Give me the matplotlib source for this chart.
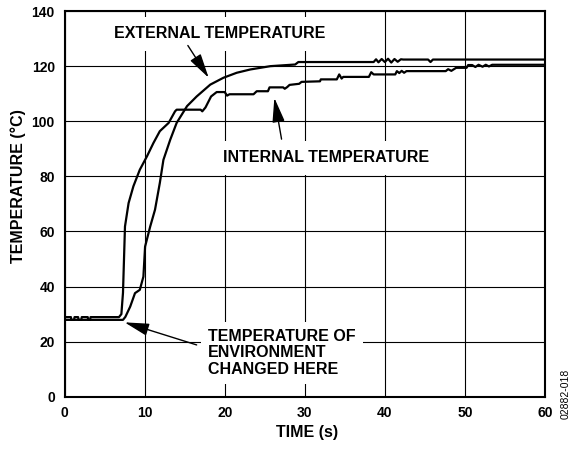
import matplotlib
matplotlib.use("Agg")
import matplotlib.pyplot as plt

plt.rcParams['font.family'] = ['Liberation Sans', 'DejaVu Sans']

# -------------------------
# data
# -------------------------
# curve that rises first (ends as the lower trace, "internal")
int_time = [0, 0.8, 0.85, 1.2, 1.25, 1.7, 1.75, 2.1, 2.15, 2.9, 2.95, 3.2, 3.25,
            6.8, 7.1, 7.3, 7.55, 8.0, 8.6, 9.4, 10.3, 11.1, 11.9, 13.0, 13.8,
            14.0, 17.0, 17.2, 17.6, 18.3, 19.0, 20.0, 20.3, 20.6, 23.6, 24.0,
            25.4, 25.6, 27.3, 27.5, 27.8, 28.1, 29.3, 29.6, 31.9, 32.0, 34.0,
            34.3, 34.6, 34.8, 38.0, 38.3, 38.6, 41.3, 41.5, 41.8, 42.1, 42.4,
            42.7, 47.6, 47.9, 48.3, 48.9, 50.2, 50.4, 50.9, 51.3, 51.7, 52.2,
            52.6, 53.0, 53.4, 60]
int_temp = [28.9, 28.9, 27.9, 27.9, 28.9, 28.9, 27.9, 27.9, 28.9, 28.9, 27.9, 27.9, 28.9,
            28.9, 30.0, 37.7, 61.8, 70.3, 76.4, 82.4, 87.3, 92.1, 96.4, 99.4, 103.6,
            104.2, 104.2, 103.6, 105.0, 109.0, 110.6, 110.6, 109.3, 109.8, 109.8, 110.9,
            110.9, 112.3, 112.3, 111.8, 112.4, 113.2, 113.6, 114.3, 114.5, 115.2, 115.2,
            117.0, 115.5, 116.1, 116.1, 117.8, 117.0, 117.0, 118.2, 117.5, 118.3, 117.6,
            118.2, 118.2, 118.9, 118.3, 119.4, 119.4, 120.4, 120.4, 119.7, 120.5, 119.8,
            120.5, 119.9, 120.5, 120.5]

# curve that rises later (ends as the upper trace, "external")
ext_time = [0, 7.3, 7.6, 8.2, 8.8, 9.4, 9.85, 10.06, 10.7, 11.3, 11.9, 12.35, 13.2,
            14.0, 15.3, 16.5, 18.2, 19.85, 21.5, 23.2, 25.7, 28.8, 29.2, 38.6,
            38.9, 39.2, 39.6, 40.0, 40.4, 40.8, 41.2, 41.6, 42.0, 42.3, 45.4,
            45.7, 46.0, 60]
ext_temp = [27.9, 27.9, 29.0, 32.7, 37.6, 38.8, 43.6, 54.5, 61.8, 67.9, 77.6, 86.0, 93.3,
            99.4, 105.5, 109.0, 113.3, 115.8, 117.6, 118.8, 120.0, 120.6, 121.5, 121.5,
            122.5, 121.4, 122.6, 121.5, 122.7, 121.3, 122.6, 121.6, 122.5, 122.4, 122.4,
            121.5, 122.4, 122.4]

x_ticks = [0, 10, 20, 30, 40, 50, 60]
y_ticks = [0, 20, 40, 60, 80, 100, 120, 140]

fig = plt.figure(figsize=(5.73, 4.5), dpi=100)
ax = fig.add_axes([0.1126, 0.1184, 0.8386, 0.857])

ax.set_xlim(0, 60)
ax.set_ylim(0, 140)
ax.set_xticks(x_ticks)
ax.set_yticks(y_ticks)
ax.grid(True, color='black', lw=0.8, zorder=0)
ax.tick_params(length=0, pad=7, labelsize=10)
for lab in ax.get_xticklabels() + ax.get_yticklabels():
    lab.set_fontweight('bold')
for sp in ax.spines.values():
    sp.set_linewidth(1.5)

ax.plot(int_time, int_temp, color='black', lw=1.6, zorder=3)
ax.plot(ext_time, ext_temp, color='black', lw=1.6, zorder=3)

ax.set_xlabel('TIME (s)', fontsize=11.5, fontweight='bold', va='center')
ax.set_ylabel('TEMPERATURE (°C)', fontsize=11.5, fontweight='bold', va='center')
ax.xaxis.set_label_coords(0.505, -0.094)
ax.yaxis.set_label_coords(-0.097, 0.546)

box = dict(boxstyle='square,pad=0.6', fc='white', ec='none')
arrow = dict(arrowstyle='-|>,head_length=1.5,head_width=0.38', color='black',
             lw=1.0, mutation_scale=10, shrinkA=0, shrinkB=0)

ax.text(19.4, 131.8, 'EXTERNAL TEMPERATURE', fontsize=11.5, fontweight='bold',
        ha='center', va='center', bbox=box, zorder=4)
ax.annotate('', xy=(18.0, 115.8), xytext=(15.4, 127.5), arrowprops=arrow, zorder=5)

ax.text(32.7, 86.8, 'INTERNAL TEMPERATURE', fontsize=11.5, fontweight='bold',
        ha='center', va='center', bbox=box, zorder=4)
ax.annotate('', xy=(26.2, 108.5), xytext=(27.1, 93.5), arrowprops=arrow, zorder=5)

ax.text(17.9, 15.9, 'TEMPERATURE OF\nENVIRONMENT\nCHANGED HERE', fontsize=11.5,
        fontweight='bold', ha='left', va='center', linespacing=1.1,
        bbox=dict(boxstyle='square,pad=0.45', fc='white', ec='none'), zorder=4)
ax.annotate('', xy=(7.5, 27.0), xytext=(16.5, 18.8), arrowprops=arrow, zorder=5)

fig.text(0.988, 0.125, '02882-018', fontsize=7.5, rotation=90, ha='center', va='center')

fig.savefig('out.png', dpi=100)
